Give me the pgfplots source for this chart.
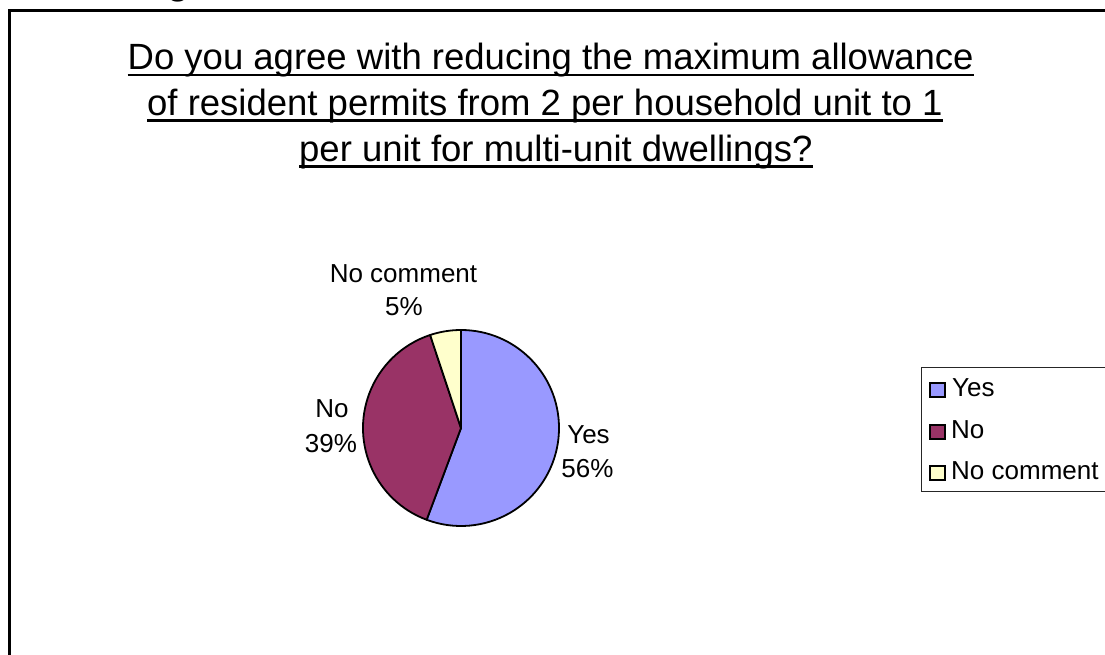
\documentclass[border=0pt]{standalone}
\usepackage{fontspec}
\setmainfont{Liberation Sans}
\usepackage{pgfplots}
\pgfplotsset{compat=1.18}
\definecolor{yescol}{HTML}{9999FF}
\definecolor{nocol}{HTML}{993366}
\definecolor{nccol}{HTML}{FFFFCC}
\begin{document}
\begin{tikzpicture}
\path[use as bounding box] (0,0) rectangle (1105pt,655pt);
\clip (0,0) rectangle (1105pt,655pt);
\begin{axis}[at={(0,0)}, anchor=south west, width=1105pt, height=655pt, scale only axis,
  xmin=0, xmax=1105, ymin=0, ymax=655, y dir=reverse, hide axis, clip=false]
% frame
\draw[line width=2.6pt] (axis cs:9.5,700) -- (axis cs:9.5,10.5) -- (axis cs:1200,10.5);
\node[anchor=base west, inner sep=0, font=\bfseries\fontsize{36}{40}\selectfont] at (axis cs:167,-5.8) {g};
% title
\node[anchor=base west, inner sep=0, font=\fontsize{36.5}{44}\selectfont] (t1) at (axis cs:127.5,70) {Do you agree with reducing the maximum allowance\ };
\node[anchor=base west, inner sep=0, font=\fontsize{36.5}{44}\selectfont] (t2) at (axis cs:147,115.5) {of resident permits from 2 per household unit to 1\ };
\node[anchor=base west, inner sep=0, font=\fontsize{36.5}{44}\selectfont] (t3) at (axis cs:299,161.5) {per unit for multi-unit dwellings?\ };
\draw[line width=2.6pt] ([yshift=-5pt]t1.base west) -- ([yshift=-5pt]t1.base east);
\draw[line width=2.6pt] ([yshift=-5pt]t2.base west) -- ([yshift=-5pt]t2.base east);
\draw[line width=2.6pt] ([yshift=-5pt]t3.base west) -- ([yshift=-5pt]t3.base east);
% pie: Yes 55.7, No 39.2, No comment 5.1 (percent)
\filldraw[fill=yescol, draw=black, line width=1.8pt, line join=round] (axis cs:461,428) -- ++(90:98pt) arc[start angle=90, delta angle={-3.6*55.7}, radius=98pt] -- cycle;
\filldraw[fill=nocol, draw=black, line width=1.8pt, line join=round] (axis cs:461,428) -- ++({90-3.6*55.7}:98pt) arc[start angle={90-3.6*55.7}, delta angle={-3.6*39.2}, radius=98pt] -- cycle;
\filldraw[fill=nccol, draw=black, line width=1.8pt, line join=round] (axis cs:461,428) -- ++({90-3.6*(55.7+39.2)}:98pt) arc[start angle={90-3.6*(55.7+39.2)}, delta angle={-3.6*5.1}, radius=98pt] -- cycle;
% data labels
\node[anchor=base, inner sep=0, font=\fontsize{26}{30}\selectfont] at (axis cs:403.5,282) {No comment};
\node[anchor=base, inner sep=0, font=\fontsize{26}{30}\selectfont] at (axis cs:404,315) {5\%};
\node[anchor=base, inner sep=0, font=\fontsize{26}{30}\selectfont] at (axis cs:332,417) {No};
\node[anchor=base, inner sep=0, font=\fontsize{26}{30}\selectfont] at (axis cs:331,452) {39\%};
\node[anchor=base, inner sep=0, font=\fontsize{26}{30}\selectfont] at (axis cs:588.5,443) {Yes};
\node[anchor=base, inner sep=0, font=\fontsize{26}{30}\selectfont] at (axis cs:587.5,477) {56\%};
% legend
\draw[line width=0.9pt, draw=black!85] (axis cs:921,367) rectangle (axis cs:1130,491);
\filldraw[fill=yescol, draw=black, line width=1.3pt] (axis cs:930,383) rectangle (axis cs:945,397);
\filldraw[fill=nocol, draw=black, line width=1.3pt] (axis cs:930,425) rectangle (axis cs:945,439);
\filldraw[fill=nccol, draw=black, line width=1.3pt] (axis cs:930,466) rectangle (axis cs:945,480);
\node[anchor=base west, inner sep=0, font=\fontsize{26}{30}\selectfont] at (axis cs:952,396) {Yes};
\node[anchor=base west, inner sep=0, font=\fontsize{26}{30}\selectfont] at (axis cs:951,438) {No};
\node[anchor=base west, inner sep=0, font=\fontsize{26}{30}\selectfont] at (axis cs:951,479) {No comment};
\end{axis}
\end{tikzpicture}
\end{document}
